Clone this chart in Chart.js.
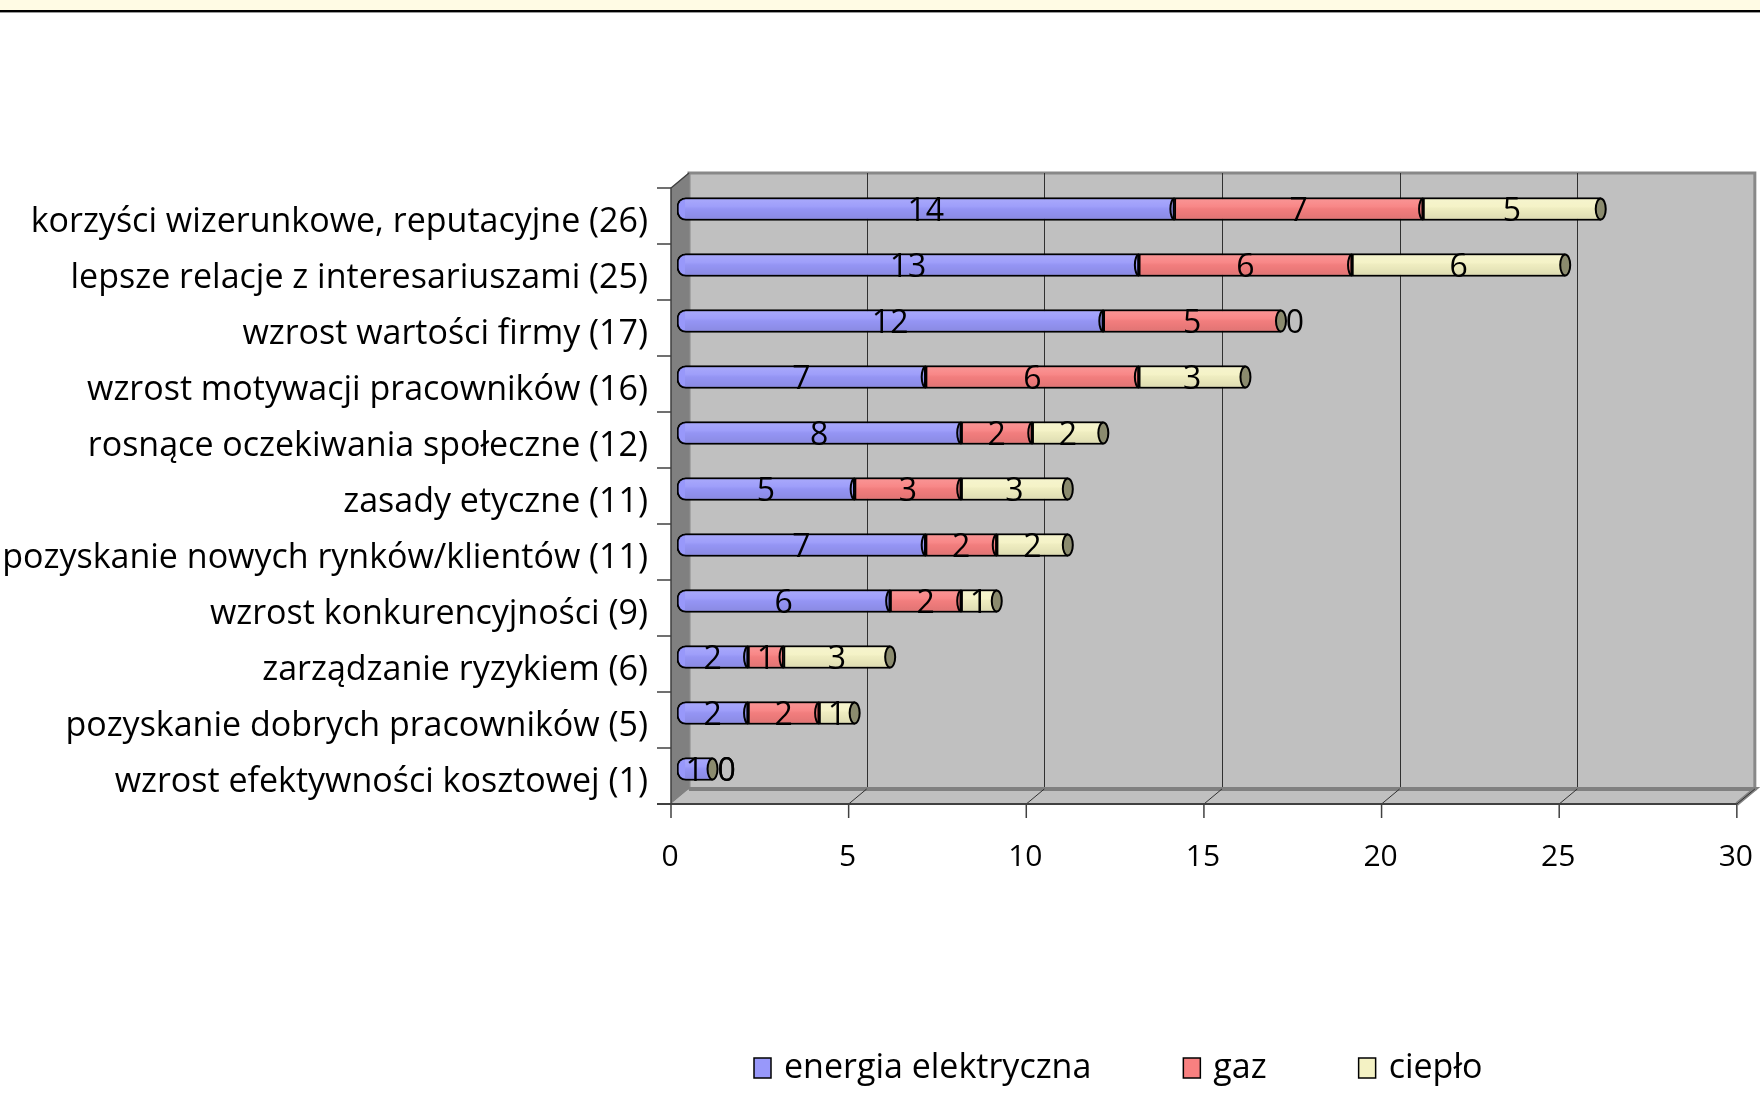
<!DOCTYPE html>
<html lang="pl">
<head>
<meta charset="UTF-8">
<title>Korzyści</title>
<script src="https://cdn.jsdelivr.net/npm/chart.js"></script>
<style>
  body { margin: 0; background: #fff; }
  canvas { display: block; }
</style>
</head>
<body>
<canvas id="chart" width="1760" height="1112"></canvas>
<script>
// categories and series
const categories = [
  'korzyści wizerunkowe, reputacyjne (26)',
  'lepsze relacje z interesariuszami (25)',
  'wzrost wartości firmy (17)',
  'wzrost motywacji pracowników (16)',
  'rosnące oczekiwania społeczne (12)',
  'zasady etyczne (11)',
  'pozyskanie nowych rynków/klientów (11)',
  'wzrost konkurencyjności (9)',
  'zarządzanie ryzykiem (6)',
  'pozyskanie dobrych pracowników (5)',
  'wzrost efektywności kosztowej (1)'
];
const energia = [14, 13, 12, 7, 8, 5, 7, 6, 2, 2, 1];
const gaz     = [7, 6, 5, 6, 2, 3, 2, 2, 1, 2, 0];
const cieplo  = [5, 6, 0, 3, 2, 3, 2, 1, 3, 1, 0];
const seriesNames = ['energia elektryczna', 'gaz', 'ciepło'];
const xTicks = [0, 5, 10, 15, 20, 25, 30];

const colors = ['#9898fa', '#f88080', '#f4f2c4'];
const FONT = '"Open Sans"';
// 3d offsets of front / back planes from the bar plane
const FRONT = { dx: -6, dy: 7 };
const BACK = { dx: 12, dy: -8 };

const wallPlugin = {
  id: 'wall3d',
  beforeDraw(chart) {
    const ctx = chart.ctx;
    ctx.save();
    ctx.fillStyle = '#fffbe4';
    ctx.fillRect(0, 0, chart.width, 10);
    ctx.fillStyle = '#000';
    ctx.fillRect(0, 10, chart.width, 2);
    ctx.fillStyle = '#999';
    ctx.fillRect(0, 12, chart.width, 1);
    ctx.restore();
  },
  beforeDatasetsDraw(chart) {
    const { ctx, chartArea: a, scales: { x } } = chart;
    const lo = xTicks[0], hi = xTicks[xTicks.length - 1];
    const fx = v => x.getPixelForValue(v) + FRONT.dx;
    const bx = v => x.getPixelForValue(v) + BACK.dx;
    const fTop = a.top + FRONT.dy, fBot = a.bottom + FRONT.dy;
    const bTop = a.top + BACK.dy, bBot = a.bottom + BACK.dy;
    ctx.save();

    // back wall
    ctx.fillStyle = '#c0c0c0';
    ctx.fillRect(bx(lo), bTop, bx(hi) - bx(lo), bBot - bTop);
    ctx.strokeStyle = '#888';
    ctx.lineWidth = 3;
    ctx.strokeRect(bx(lo), bTop, bx(hi) - bx(lo), bBot - bTop);

    // gridlines on the wall
    ctx.strokeStyle = '#303030';
    ctx.lineWidth = 1;
    xTicks.slice(1, -1).forEach(v => {
      ctx.beginPath();
      ctx.moveTo(Math.round(bx(v)) + 0.5, bTop);
      ctx.lineTo(Math.round(bx(v)) + 0.5, bBot);
      ctx.stroke();
    });

    // floor
    ctx.fillStyle = '#c0c0c0';
    ctx.beginPath();
    ctx.moveTo(fx(lo), fBot);
    ctx.lineTo(fx(hi), fBot);
    ctx.lineTo(bx(hi), bBot);
    ctx.lineTo(bx(lo), bBot);
    ctx.closePath();
    ctx.fill();
    ctx.strokeStyle = '#808080';
    ctx.lineWidth = 4;
    ctx.beginPath();
    ctx.moveTo(bx(lo), bBot);
    ctx.lineTo(bx(hi), bBot);
    ctx.lineTo(fx(hi), fBot);
    ctx.stroke();
    ctx.strokeStyle = '#303030';
    ctx.lineWidth = 1;
    xTicks.slice(1).forEach(v => {
      ctx.beginPath();
      ctx.moveTo(fx(v), fBot);
      ctx.lineTo(bx(v), bBot);
      ctx.stroke();
    });

    // left side wall
    ctx.fillStyle = '#808080';
    ctx.beginPath();
    ctx.moveTo(fx(lo), fTop);
    ctx.lineTo(bx(lo), bTop);
    ctx.lineTo(bx(lo), bBot);
    ctx.lineTo(fx(lo), fBot);
    ctx.closePath();
    ctx.fill();
    ctx.strokeStyle = '#404040';
    ctx.lineWidth = 1.5;
    ctx.beginPath();
    ctx.moveTo(bx(lo), bTop);
    ctx.lineTo(fx(lo), fTop);
    ctx.lineTo(fx(lo), fBot);
    ctx.stroke();

    // front axis lines and ticks
    ctx.strokeStyle = '#404040';
    ctx.lineWidth = 2;
    ctx.beginPath();
    ctx.moveTo(fx(lo) - 14, fBot);
    ctx.lineTo(fx(hi), fBot);
    ctx.stroke();
    ctx.lineWidth = 1.5;
    const n = categories.length;
    for (let k = 0; k < n; k++) {
      const y = fTop + k * (fBot - fTop) / n;
      ctx.beginPath();
      ctx.moveTo(fx(lo) - 14, y);
      ctx.lineTo(fx(lo), y);
      ctx.stroke();
    }
    xTicks.forEach(v => {
      ctx.beginPath();
      ctx.moveTo(fx(v), fBot);
      ctx.lineTo(fx(v), fBot + 14);
      ctx.stroke();
    });
    ctx.restore();
  },
  afterDatasetsDraw(chart) {
    const ctx = chart.ctx;
    const metas = chart.data.datasets.map((d, i) => chart.getDatasetMeta(i));
    ctx.save();
    // shading on the cylinders
    metas.forEach((meta, di) => {
      meta.data.forEach(el => {
        const l = Math.min(el.base, el.x), r = Math.max(el.base, el.x);
        if (r - l < 3) return;
        const t = el.y - el.height / 2, b = el.y + el.height / 2;
        const g = ctx.createLinearGradient(0, t, 0, b);
        g.addColorStop(0, 'rgba(255,255,255,0.18)');
        g.addColorStop(0.4, 'rgba(255,255,255,0.06)');
        g.addColorStop(0.55, 'rgba(0,0,0,0.03)');
        g.addColorStop(1, 'rgba(0,0,0,0.10)');
        ctx.fillStyle = g;
        const inset = di === 0 ? 8 : 2;
        ctx.fillRect(l + inset, t + 2, r - l - inset - 2, b - t - 4);
      });
    });
    // segment edges and end caps
    ctx.strokeStyle = '#000';
    ctx.lineWidth = 2;
    categories.forEach((c, i) => {
      let last = null;
      metas.forEach((meta, di) => {
        const el = meta.data[i];
        if (Math.abs(el.x - el.base) < 1) return;
        if (di > 0) {
          ctx.beginPath();
          ctx.ellipse(el.base, el.y, 4, el.height / 2 - 1, 0, Math.PI / 2, Math.PI * 1.5);
          ctx.stroke();
        }
        last = el;
      });
      if (last) {
        ctx.fillStyle = '#8b8b6e';
        ctx.beginPath();
        ctx.ellipse(last.x, last.y, 5, last.height / 2 - 1, 0, 0, Math.PI * 2);
        ctx.fill();
        ctx.stroke();
      }
    });
    // value labels
    ctx.fillStyle = '#000';
    ctx.font = '32px ' + FONT;
    ctx.textAlign = 'center';
    ctx.textBaseline = 'middle';
    metas.forEach((meta, di) => {
      const vals = chart.data.datasets[di].data;
      meta.data.forEach((el, i) => {
        const shift = vals[i] === 0 ? 14 : 0;
        ctx.fillText(String(vals[i]), (el.x + el.base) / 2 + shift, el.y + 3);
      });
    });
    ctx.restore();
  },
  afterDraw(chart) {
    // legend
    const ctx = chart.ctx;
    ctx.save();
    ctx.font = '34px ' + FONT;
    ctx.textBaseline = 'middle';
    let xPos = 754;
    const yPos = 1068;
    chart.data.datasets.forEach(ds => {
      ctx.fillStyle = ds.backgroundColor;
      ctx.fillRect(xPos, yPos - 10, 17, 20);
      ctx.strokeStyle = '#000';
      ctx.lineWidth = 1.5;
      ctx.strokeRect(xPos, yPos - 10, 17, 20);
      ctx.fillStyle = '#000';
      ctx.fillText(ds.label, xPos + 30, yPos);
      xPos += 30 + ctx.measureText(ds.label).width + 92;
    });
    ctx.restore();
  }
};

const ctx = document.getElementById('chart').getContext('2d');
new Chart(ctx, {
  type: 'bar',
  data: {
    labels: categories,
    datasets: [energia, gaz, cieplo].map((vals, i) => ({
      label: seriesNames[i],
      data: vals,
      backgroundColor: colors[i],
      borderColor: '#000',
      borderWidth: 2,
      borderSkipped: false,
      borderRadius: i === 0 ? { topLeft: 9, bottomLeft: 9, topRight: 0, bottomRight: 0 } : 0,
      barThickness: 23
    }))
  },
  options: {
    indexAxis: 'y',
    responsive: false,
    animation: false,
    layout: { padding: { top: 181, right: 16, bottom: 215, left: 0 } },
    plugins: {
      legend: { display: false },
      tooltip: { enabled: false }
    },
    scales: {
      x: {
        stacked: true,
        min: xTicks[0],
        max: xTicks[xTicks.length - 1],
        afterBuildTicks: s => { s.ticks = xTicks.map(v => ({ value: v })); },
        afterFit: s => { s.height = 100; },
        grid: { display: false, drawTicks: true, tickLength: 42 },
        border: { display: false },
        ticks: { color: '#000', font: { family: FONT, size: 30 }, padding: 0, labelOffset: -7, maxRotation: 0 }
      },
      y: {
        stacked: true,
        afterFit: s => { s.width = 677; },
        grid: { display: false, drawTicks: false },
        border: { display: false },
        ticks: { color: '#000', font: { family: FONT, size: 34 }, padding: 29, labelOffset: 13, autoSkip: false }
      }
    }
  },
  plugins: [wallPlugin]
});
</script>
</body>
</html>
